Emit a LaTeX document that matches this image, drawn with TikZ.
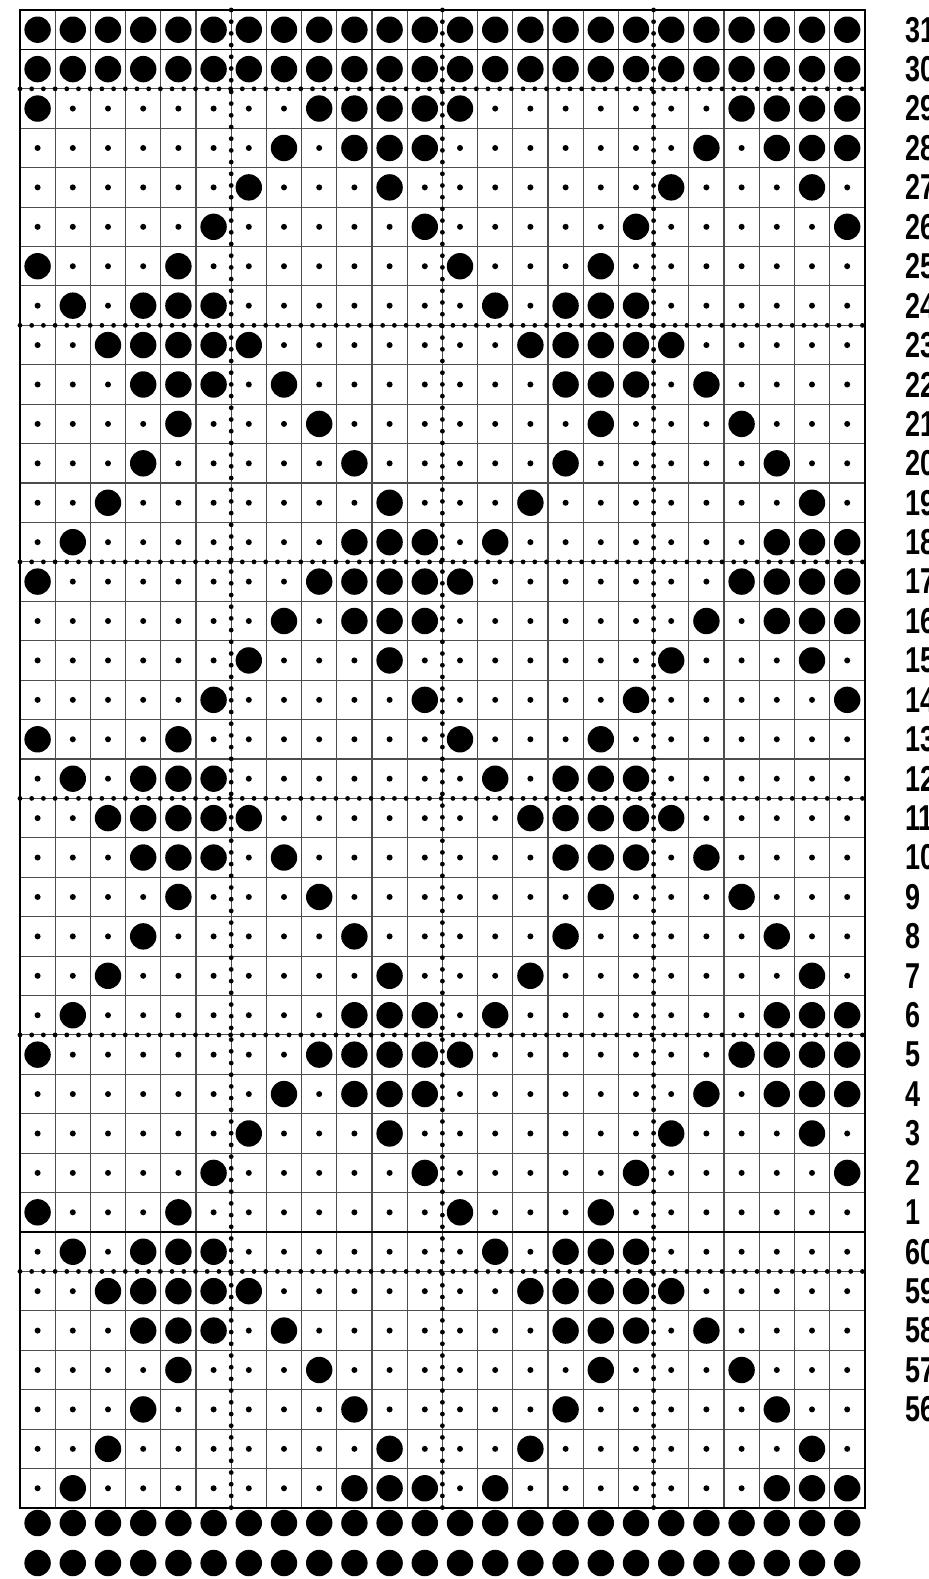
\documentclass[tikz,border=0pt]{standalone}
\usepackage{fontspec}
\newfontfamily\labfont{Liberation Sans}
\begin{document}
\begin{tikzpicture}[x=0.5pt,y=-0.5pt,
  gridline/.style={line width=0.55pt,black!70},
  dotline/.style={line width=2.4pt,line cap=round,dash pattern=on 0pt off 5.85pt},
  bigdot/.style={fill=black},
  smalldot/.style={fill=black},
  lab/.style={anchor=west,inner sep=0pt,font=\labfont\bfseries\fontsize{18}{18}\selectfont}]
\fill[white] (0,0) rectangle (929,1579);
\useasboundingbox (0,0) rectangle (929,1579);
% thin grid
\foreach \i in {1,...,23} \draw[gridline] ({20+35.2*\i},10) -- ({20+35.2*\i},1508);
\foreach \j in {1,...,37} \draw[gridline] (20,{10+39.42*\j}) -- (865,{10+39.42*\j});
% heavier lines
\draw[line width=0.8pt] (20,{10+39.42}) -- (865,{10+39.42});
\draw[line width=1.1pt] (20,{10+39.42*31}) -- (865,{10+39.42*31});
\draw[line width=1.3pt] (20,10) rectangle (865,1508);
% dotted guide lines
\foreach \i in {6,12,18} \draw[dotline] ({20+35.2*\i},10) -- ({20+35.2*\i},1508);
\foreach \j in {2,8,14,20,26,32} \draw[dotline] (20,{10+39.42*\j}) -- (865,{10+39.42*\j});
% small dots everywhere in pattern rows
\foreach \k in {2,...,37}
  \foreach \c in {1,...,24}
    \fill[smalldot] ({20+35.2*(\c-0.5)},{10+39.42*(\k+0.5)}) circle (1.5pt);
% top two full rows
\foreach \k in {0,1}
  \foreach \c in {1,...,24}
    \fill[bigdot] ({20+35.2*(\c-0.5)},{10+39.42*(\k+0.5)}) circle (6.6pt);
% pattern
\foreach \p/\cols in {0/{1,9,10,11,12},1/{8,10,11,12},2/{7,11},3/{6,12},4/{1,5},5/{2,4,5,6},6/{3,4,5,6,7},7/{4,5,6,8},8/{5,9},9/{4,10},10/{3,11},11/{2,10,11,12}}{
  \foreach \rep in {0,1,2}{
    \pgfmathtruncatemacro\kk{\p+2+12*\rep}
    \ifnum\kk<38
      \foreach \c in \cols {
        \foreach \h in {0,12}{
          \fill[bigdot] ({20+35.2*(\c+\h-0.5)},{10+39.42*(\kk+0.5)}) circle (6.6pt);
        }
      }
    \fi
  }
}
% bottom rows outside the grid
\foreach \yy in {1523,1563}
  \foreach \c in {1,...,24}
    \fill[bigdot] ({20+35.2*(\c-0.5)},\yy) circle (6.6pt);
% row labels
\foreach \k in {0,...,35}{
  \pgfmathtruncatemacro\lt{\k<31 ? 31-\k : 91-\k}
  \node[lab] (lab\lt) at (905,{10+39.42*(\k+0.5)}) {\scalebox{0.75}[1]{\lt}};
}
\end{tikzpicture}
\end{document}
